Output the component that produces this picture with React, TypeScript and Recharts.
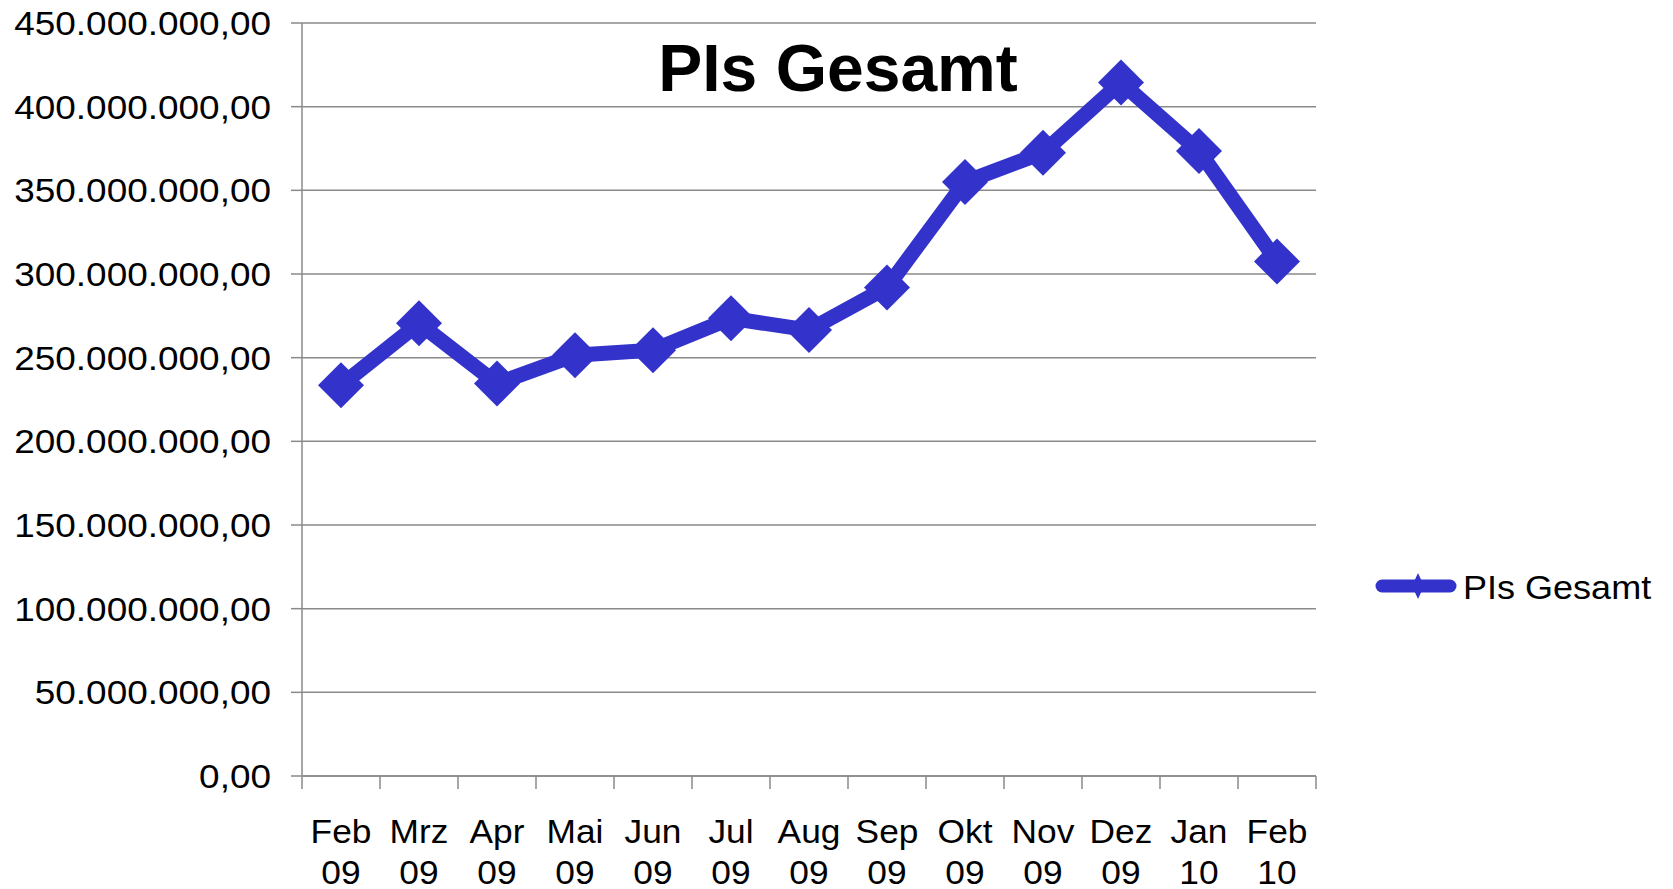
import { LineChart, Line, XAxis, YAxis, CartesianGrid, Legend } from "recharts";

// months on the category axis (Excel-style, labels sit between tick marks)
const months = [
  "Feb 09", "Mrz 09", "Apr 09", "Mai 09", "Jun 09", "Jul 09", "Aug 09",
  "Sep 09", "Okt 09", "Nov 09", "Dez 09", "Jan 10", "Feb 10",
];

// PIs Gesamt
const plsGesamt = [
  233500000, 270500000, 234500000, 251500000, 254500000, 273500000, 266500000,
  292000000, 355000000, 372500000, 414500000, 373500000, 307500000,
];

const yTicks = [
  0, 50000000, 100000000, 150000000, 200000000, 250000000, 300000000,
  350000000, 400000000, 450000000,
];

const seriesName = "PIs Gesamt";

const data = months.map((m, i) => ({ idx: i, month: m, value: plsGesamt[i] }));
const centerTicks = months.map((_, i) => i);
const boundaryTicks = [...months.map((_, i) => i - 0.5), months.length - 0.5];
const xDomain = [-0.5, months.length - 0.5];

const C = {
  line: "#3333cc",
  grid: "#8a8a8a",
  text: "#000000",
};
const FONT = "'Liberation Sans', Arial, sans-serif";

// german number format: 450.000.000,00
const fmtDe = (v: number) =>
  Math.round(v).toString().replace(/\B(?=(\d{3})+(?!\d))/g, ".") + ",00";

function YTick({ x, y, payload }: any) {
  return (
    <text
      transform={`translate(${x - 18},${y}) scale(1.12,1)`}
      textAnchor="end"
      dy="0.36em"
      fontSize={33}
      fontFamily={FONT}
      fill={C.text}
    >
      {fmtDe(payload.value)}
    </text>
  );
}

function XTick({ x, y, payload }: any) {
  const label = months[payload.value];
  if (!label) return null;
  const [m, yr] = label.split(" ");
  return (
    <g transform={`translate(${x},${y}) scale(1.07,1)`}>
      <text textAnchor="middle" y={54} fontSize={33} fontFamily={FONT} fill={C.text}>
        {m}
      </text>
      <text textAnchor="middle" y={95} fontSize={33} fontFamily={FONT} fill={C.text}>
        {yr}
      </text>
    </g>
  );
}

// boundary axis only shows tick marks
const NoLabel = () => <g />;

function Diamond({ cx, cy }: any) {
  if (cx == null || cy == null) return null;
  const r = 23;
  return (
    <polygon
      points={`${cx},${cy - r} ${cx + r},${cy} ${cx},${cy + r} ${cx - r},${cy}`}
      fill={C.line}
    />
  );
}

function LegendContent({ payload }: any) {
  const item = payload?.[0];
  if (!item) return null;
  const col = item.color || C.line;
  return (
    <svg width={300} height={52}>
      <line x1={12} y1={26} x2={80} y2={26} stroke={col} strokeWidth={13} strokeLinecap="round" />
      <polygon points="48,13 54,26 48,39 42,26" fill={col} />
      <text
        transform="translate(93,39) scale(1.06,1)"
        fontSize={34}
        fontFamily={FONT}
        fill={C.text}
      >
        {item.value}
      </text>
    </svg>
  );
}

export default function App() {
  return (
    <div style={{ position: "relative", width: 1673, height: 889, background: "#fff" }}>
      <style>{"body{margin:0}"}</style>

      <div
        style={{
          position: "absolute",
          left: 538,
          top: 35,
          width: 600,
          textAlign: "center",
          fontFamily: FONT,
          fontWeight: "bold",
          fontSize: 66,
          lineHeight: "66px",
          color: C.text,
          zIndex: 2,
        }}
      >
        {seriesName}
      </div>

      <LineChart
        width={1673}
        height={889}
        data={data}
        margin={{ top: 23, right: 357, bottom: 0, left: 0 }}
      >
        <CartesianGrid
          xAxisId="grid"
          vertical={false}
          stroke={C.grid}
          strokeWidth={1.5}
        />
        <XAxis
          xAxisId="grid"
          type="number"
          dataKey="idx"
          domain={xDomain}
          ticks={boundaryTicks}
          interval={0}
          tick={<NoLabel />}
          tickSize={13}
          height={13}
          axisLine={{ stroke: C.grid, strokeWidth: 1.5 }}
          tickLine={{ stroke: C.grid, strokeWidth: 1.5 }}
        />
        <XAxis
          xAxisId="main"
          type="number"
          dataKey="idx"
          domain={xDomain}
          ticks={centerTicks}
          interval={0}
          tick={<XTick />}
          tickSize={0}
          tickMargin={0}
          tickLine={false}
          axisLine={false}
          height={100}
        />
        <YAxis
          domain={[0, 450000000]}
          ticks={yTicks}
          interval={0}
          width={302}
          tickSize={11}
          tick={<YTick />}
          axisLine={{ stroke: C.grid, strokeWidth: 1.5 }}
          tickLine={{ stroke: C.grid, strokeWidth: 1.5 }}
        />
        <Legend
          layout="vertical"
          align="center"
          verticalAlign="middle"
          wrapperStyle={{ position: "absolute", left: 1370, top: 560, width: 300, height: 52 }}
          content={<LegendContent />}
        />
        <Line
          xAxisId="main"
          dataKey="value"
          name={seriesName}
          stroke={C.line}
          strokeWidth={15}
          dot={<Diamond />}
          activeDot={false}
          isAnimationActive={false}
        />
      </LineChart>
    </div>
  );
}
